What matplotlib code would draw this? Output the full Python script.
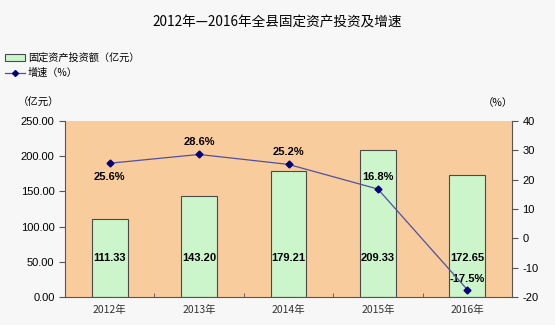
import matplotlib
matplotlib.use("Agg")
import matplotlib.pyplot as plt
from matplotlib.lines import Line2D
from matplotlib.patches import Patch

plt.rcParams['font.family'] = ['Liberation Sans', 'Noto Sans CJK SC', 'DejaVu Sans']

years = ['2012年', '2013年', '2014年', '2015年', '2016年']
invest = [111.33, 143.20, 179.21, 209.33, 172.65]
growth = [25.6, 28.6, 25.2, 16.8, -17.5]
growth_labels = ['25.6%', '28.6%', '25.2%', '16.8%', '-17.5%']
left_ticks = [0, 50, 100, 150, 200, 250]
right_ticks = [-20, -10, 0, 10, 20, 30, 40]

fig = plt.figure(figsize=(5.55, 3.25), dpi=100)
fig.patch.set_facecolor('#f7f7f7')
ax = fig.add_axes([65/555, 1-297/325, (512-65)/555, (297-121)/325])
ax.set_facecolor('#f9cc9e')

x = list(range(len(years)))
ax.bar(x, invest, width=0.4, color='#ccf5cc', edgecolor='#4a4a4a', linewidth=0.8, zorder=2)
ax.set_xlim(-0.5, len(years) - 0.5)
ax.set_ylim(0, 250)
ax.set_yticks(left_ticks)
ax.set_yticklabels([f'{v:.2f}' for v in left_ticks], fontsize=8)
ax.set_xticks(x)
ax.set_xticklabels(years, fontsize=7.5, family=['Noto Sans CJK SC'], color='#333333')
ax.tick_params(axis='x', length=0, pad=6)
ax.set_xticks([i + 0.5 for i in range(len(years) - 1)], minor=True)
ax.tick_params(axis='x', which='minor', direction='in', length=3, color='#555555')
ax.tick_params(axis='y', direction='out', length=4, color='#555555')
for s in ['top', 'right']:
    ax.spines[s].set_visible(False)
for s in ['left', 'bottom']:
    ax.spines[s].set_color('#555555')

for i, v in enumerate(invest):
    ax.text(i, 55, f'{v:.2f}', ha='center', va='center', fontsize=8, fontweight='bold', zorder=5)

ax2 = ax.twinx()
ax2.set_ylim(-20, 40)
ax2.set_yticks(right_ticks)
ax2.set_yticklabels([str(v) for v in right_ticks], fontsize=8)
ax2.tick_params(axis='y', direction='out', length=4, color='#555555')
for s in ['top', 'left', 'bottom']:
    ax2.spines[s].set_visible(False)
ax2.spines['right'].set_color('#555555')
ax2.plot(x, growth, color='#5050a0', linewidth=0.9, marker='D', markersize=3.5,
         markerfacecolor='#000080', markeredgecolor='#000080', zorder=4)
offsets = [-10, 9, 9, 9, 8]
for i, (v, lab) in enumerate(zip(growth, growth_labels)):
    ax2.annotate(lab, (i, v), xytext=(0, offsets[i]), textcoords='offset points',
                 ha='center', va='center', fontsize=8, fontweight='bold')

fig.text(0.5, 1-23/325, '2012年—2016年全县固定资产投资及增速', ha='center', va='center',
         fontsize=9.8, family=['Noto Sans CJK SC'])

handles = [Patch(facecolor='#ccf5cc', edgecolor='#4a4a4a', linewidth=0.8),
           Line2D([0], [0], color='#5050a0', lw=0.9, marker='D', markersize=3,
                  markerfacecolor='#000080', markeredgecolor='#000080')]
fig.legend(handles, ['固定资产投资额（亿元）', '增速（%）'], loc='upper left',
           bbox_to_anchor=(0, 1-48/325), frameon=False,
           prop={'family': ['Noto Sans CJK SC'], 'size': 7.3},
           handlelength=2.0, handletextpad=0.25, labelspacing=0.45, borderaxespad=0.1)

fig.text(18/555, 1-103/325, '（亿元）', ha='left', va='center', fontsize=7.5, family=['Noto Sans CJK SC'])
fig.text(483/555, 1-103/325, '（%）', ha='left', va='center', fontsize=7.5, family=['Noto Sans CJK SC'])

fig.savefig('out.png', dpi=100, facecolor=fig.get_facecolor())
